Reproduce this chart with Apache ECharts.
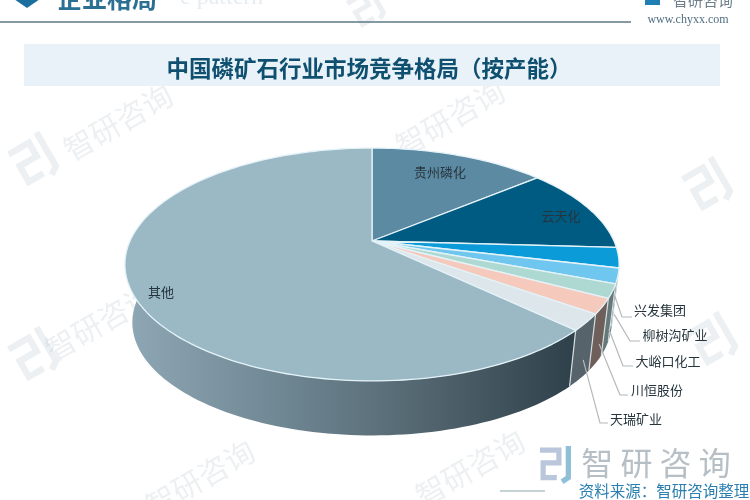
<!DOCTYPE html>
<html>
<head>
<meta charset="utf-8">
<style>
html, body { margin: 0; padding: 0; background: #fff; }
#main { width: 750px; height: 500px; }
</style>
<script src="https://cdn.jsdelivr.net/npm/echarts@6/dist/echarts.min.js"></script>
</head>
<body>
<div id="main"></div>
<script>
// share of capacity in %
const names = ['贵州磷化', '云天化', '兴发集团', '柳树沟矿业', '大峪口化工', '川恒股份', '天瑞矿业', '其他'];
const shares = [14, 11.9, 2.8, 2.1, 1.9, 2.1, 2.3, 62.9];

const topColors = ['#5d8aa3', '#005b82', '#0a9bd8', '#6fc6ef', '#aed8d2', '#f6c9bd', '#dde6ea', '#9bb8c5'];
const wallColors = ['#3f5f70', '#0f3a50', '#1c3f4e', '#3d5a60', '#66797a', '#6f5f5b', '#56636a', '#6d838f'];

const FONT = '"Noto Sans CJK SC", sans-serif';

// the disc is seen in perspective, so the apex sits above the middle of the ellipse
const cx = 372, cy = 241, a = 111.7, b = 242, k = 0.2017;
const midY = 264.5, wallScale = 0.97, wallDrop = 58;

function rimPoint(deg) {
    let t = deg * Math.PI / 180;
    let X = Math.sin(t), Y = -Math.cos(t);
    let d = 1 - k * Y;
    return [cx + b * X / d, cy + a * Y / d];
}

function wallPoint(deg) {
    let p = rimPoint(deg);
    return [cx + (p[0] - cx) * wallScale, midY + (p[1] - midY) * wallScale + wallDrop];
}

function sliceAngles(i) {
    let total = shares.reduce((s, v) => s + v, 0);
    let before = 0;
    for (let j = 0; j < i; j++) before += shares[j];
    return [before / total * 360, (before + shares[i]) / total * 360];
}

function arc(fn, from, to) {
    let pts = [];
    let n = Math.max(2, Math.ceil((to - from) / 1.5));
    for (let i = 0; i <= n; i++) pts.push(fn(from + (to - from) * i / n));
    return pts;
}

function renderWall(params, api) {
    let i = params.dataIndex;
    let ang = sliceAngles(i);
    let from = ang[0], to = Math.min(ang[1], 290);
    if (to <= 90 || from >= 290) return { type: 'group', children: [] };
    from = Math.max(from, 85);
    let pts = arc(rimPoint, from, to).concat(arc(wallPoint, from, to).reverse());
    let fill = wallColors[i];
    if (names[i] === '其他') {
        fill = new echarts.graphic.LinearGradient(125, 0, 575, 0, [
            { offset: 0, color: '#8fa8b5' },
            { offset: 0.35, color: '#6f8793' },
            { offset: 0.7, color: '#4f626c' },
            { offset: 1, color: '#2e404a' }
        ], true);
    }
    let children = [{ type: 'polygon', shape: { points: pts }, style: { fill: fill } }];
    if (from > 100) {
        children.push({
            type: 'polyline',
            shape: { points: [rimPoint(from), wallPoint(from)] },
            style: { stroke: '#d5dde0', lineWidth: 1.2, fill: null }
        });
    }
    return { type: 'group', children: children };
}

function renderTop(params, api) {
    let i = params.dataIndex;
    let ang = sliceAngles(i);
    let pts = [[cx, cy]].concat(arc(rimPoint, ang[0], ang[1]));
    return {
        type: 'polygon',
        shape: { points: pts },
        style: { fill: topColors[i], stroke: '#e4f3f8', lineWidth: 1.3, lineJoin: 'round' }
    };
}

// where the labels go, same order as names
const labelSpots = [[440, 172], [561, 216], [660, 310], [675, 335], [668, 361], [657, 390], [636, 419], [161, 292]];
const leaderBends = [null, null, [[622, 317], [632, 317]], [[630, 341], [640, 341]], [[623, 366], [633, 366]], [[620, 395], [628, 395]], [[600, 423], [608, 423]], null];

function renderLabel(params, api) {
    let i = params.dataIndex;
    let ang = sliceAngles(i);
    let children = [{
        type: 'text',
        style: {
            x: labelSpots[i][0], y: labelSpots[i][1], text: names[i],
            font: '13px ' + FONT, fill: '#26353d', align: 'center', verticalAlign: 'middle'
        }
    }];
    if (leaderBends[i]) {
        let m = (ang[0] + ang[1]) / 2;
        let r = rimPoint(m), w = wallPoint(m);
        let start = [(r[0] + w[0]) / 2, (r[1] + 2 * w[1]) / 3];
        children.push({
            type: 'polyline',
            shape: { points: [start].concat(leaderBends[i]) },
            style: { stroke: '#b5b8ba', lineWidth: 1.2, fill: null }
        });
    }
    return { type: 'group', children: children };
}

// company mark, rough blocks
function mark(x, y, s, rot, c1, c2) {
    return {
        type: 'group', x: x, y: y, rotation: rot, scaleX: s, scaleY: s,
        children: [
            { type: 'polyline', shape: { points: [[0, 4], [18, 4], [18, 16], [3, 16], [3, 30], [16, 30]] }, style: { stroke: c1, lineWidth: 5, fill: null } },
            { type: 'polyline', shape: { points: [[27, 0], [27, 30], [21, 34]] }, style: { stroke: c2, lineWidth: 5, fill: null } }
        ]
    };
}

function watermark(x, y, text, rot) {
    return {
        type: 'text', x: x, y: y, rotation: rot,
        style: { text: text, font: '30px ' + FONT, fill: 'rgba(140,160,175,0.16)', align: 'center', verticalAlign: 'middle' }
    };
}

const pale = 'rgba(140,160,175,0.16)';
const wmRot = Math.PI / 6;

let chart = echarts.init(document.getElementById('main'));
chart.setOption({
    backgroundColor: '#fff',
    animation: false,
    graphic: [
        watermark(118, 122, '智研咨询', wmRot),
        watermark(450, 118, '智研咨询', wmRot),
        watermark(100, 322, '智研咨询', wmRot),
        watermark(200, 478, '智研咨询', wmRot),
        watermark(470, 468, '智研咨询', wmRot),
        mark(6, 150, 1.3, wmRot, pale, pale),
        mark(6, 345, 1.3, wmRot, pale, pale),
        mark(680, 175, 1.3, wmRot, pale, pale),
        mark(685, 330, 1.3, wmRot, pale, pale),
        mark(345, 0, 1, wmRot, pale, pale),

        // page header, cut off by the top edge
        { type: 'polygon', shape: { points: [[14, -1], [40, -1], [27, 8]] }, style: { fill: '#1a6f9f' } },
        { type: 'text', x: 57, y: -2, style: { text: '企业格局', font: 'bold 25px ' + FONT, fill: '#2b6f92', verticalAlign: 'middle' } },
        { type: 'text', x: 180, y: -2, style: { text: 'e pattern', font: '24px "Liberation Serif", serif', fill: '#e6edf2', verticalAlign: 'middle' } },
        { type: 'line', shape: { x1: 0, y1: 22, x2: 631, y2: 22 }, style: { stroke: '#5d7a85', lineWidth: 1.3 } },
        { type: 'rect', shape: { x: 645, y: -2, width: 15, height: 7 }, style: { fill: '#1f7fb3' } },
        { type: 'text', x: 703, y: 0, style: { text: '智研咨询', font: '15px ' + FONT, fill: '#6c7f8a', align: 'center', verticalAlign: 'middle' } },
        { type: 'text', x: 688, y: 20, style: { text: 'www.chyxx.com', font: '12px "Liberation Serif", serif', fill: '#4f6f80', align: 'center', verticalAlign: 'middle' } },

        // title band
        { type: 'rect', shape: { x: 24, y: 44, width: 696, height: 42 }, style: { fill: '#e8f2f8' } },
        { type: 'text', x: 369, y: 68, style: { text: '中国磷矿石行业市场竞争格局（按产能）', font: 'bold 22.5px ' + FONT, fill: '#0f4f70', align: 'center', verticalAlign: 'middle' } },

        // footer
        mark(540, 446, 1.05, 0, '#b9c6dc', '#8fc0d8'),
        { type: 'text', x: 656, y: 463, style: { text: '智 研 咨 询', font: '32px ' + FONT, fill: '#b7bfc6', align: 'center', verticalAlign: 'middle' } },
        { type: 'line', shape: { x1: 500, y1: 491, x2: 545, y2: 491 }, style: { stroke: '#8fa5ae', lineWidth: 1 } },
        { type: 'text', x: 664, y: 491, style: { text: '资料来源：智研咨询整理', font: '15.5px ' + FONT, fill: '#2a7fb0', align: 'center', verticalAlign: 'middle' } }
    ],
    series: [
        { type: 'custom', coordinateSystem: 'none', z: 2, renderItem: renderWall, data: shares.map(v => [v]) },
        { type: 'custom', coordinateSystem: 'none', z: 3, renderItem: renderTop, data: shares.map(v => [v]) },
        { type: 'custom', coordinateSystem: 'none', z: 4, renderItem: renderLabel, data: shares.map(v => [v]) }
    ]
});
</script>
</body>
</html>
